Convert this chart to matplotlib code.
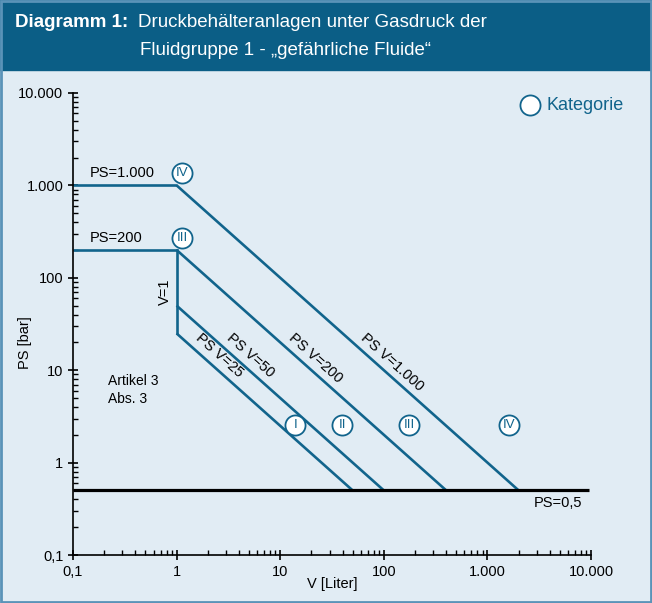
import numpy as np
import matplotlib.pyplot as plt
from matplotlib.patches import Rectangle

plt.rcParams['font.family'] = ['Liberation Sans', 'DejaVu Sans']

blue = '#11648c'
bg = '#e1ecf4'

# grenzlinien PS*V = const
psv = [25, 50, 200, 1000]
psv_labels = ['PS V=25', 'PS V=50', 'PS V=200', 'PS V=1.000']
psv_lab_x = [2.57, 5.13, 21.8, 121]
ps_min = 0.5
ps_flat = [200, 1000]
ps_flat_labels = ['PS=200', 'PS=1.000']

# kategorie kreise
kat_x = [1.13, 1.13, 14.0, 39.7, 176, 1630]
kat_y = [1360, 270, 2.55, 2.55, 2.55, 2.55]
kat_txt = ['IV', 'III', 'I', 'II', 'III', 'IV']

ticks = [0.1, 1, 10, 100, 1000, 10000]
tick_labels = ['0,1', '1', '10', '100', '1.000', '10.000']

fig = plt.figure(figsize=(6.52, 6.03), dpi=100)
fig.patch.set_facecolor(bg)
# header + rahmen
fig.patches.append(Rectangle((0, 0.884), 1, 0.116, transform=fig.transFigure, color='#0b5e86', zorder=0))
fig.patches.append(Rectangle((0.002, 0.002), 0.996, 0.996, transform=fig.transFigure, fill=False,
                             ec='#5a93b8', lw=2, zorder=5))
fig.text(0.023, 0.963, 'Diagramm 1:', color='white', fontsize=13.5, fontweight='bold', va='center')
fig.text(0.211, 0.963, 'Druckbehälteranlagen unter Gasdruck der', color='white', fontsize=13.5, va='center')
fig.text(0.215, 0.917, 'Fluidgruppe 1 - „gefährliche Fluide“', color='white', fontsize=13.5, va='center')

ax = fig.add_axes([0.112, 0.0796, 0.7945, 0.7662])
ax.set_facecolor(bg)
ax.set_xscale('log')
ax.set_yscale('log')
ax.set_xlim(0.1, 10000)
ax.set_ylim(0.1, 10000)
for s in ['top', 'right']:
    ax.spines[s].set_visible(False)
for s in ['left', 'bottom']:
    ax.spines[s].set_linewidth(1.2)
ax.set_xticks(ticks)
ax.set_xticklabels(tick_labels)
ax.set_yticks(ticks)
ax.set_yticklabels(tick_labels)
ax.tick_params(which='major', direction='inout', length=7, width=1.2, labelsize=10.5)
ax.tick_params(which='minor', direction='in', length=3.5, width=1)

# horizontale bis V=1
for p, lab in zip(ps_flat, ps_flat_labels):
    ax.plot([0.1, 1], [p, p], color=blue, lw=1.9, solid_capstyle='butt')
    ax.text(0.146, p * 1.36, lab, fontsize=10.5, va='center')
# V=1 senkrecht
ax.plot([1, 1], [200, 25], color=blue, lw=1.9)
ax.text(0.775, 70, 'V=1', rotation=90, fontsize=10.5, ha='center', va='center')

ang = -np.degrees(np.arctan(92.4 / 103.5))
for c, lab, xv in zip(psv, psv_labels, psv_lab_x):
    v0 = 1.0
    v1 = c / ps_min
    ax.plot([v0, v1], [c / v0, c / v1], color=blue, lw=1.9, solid_capstyle='butt')
    ax.text(xv, c / xv * 1.48, lab, rotation=ang, fontsize=10.5, ha='center', va='center',
            rotation_mode='anchor')

ax.plot([0.1, 9500], [ps_min, ps_min], color='black', lw=2.3, solid_capstyle='butt')
ax.text(8300, 0.366, 'PS=0,5', fontsize=10.5, ha='right', va='center')

ax.text(0.218, 6.1, 'Artikel 3\nAbs. 3', fontsize=10, va='center', linespacing=1.4)

ax.scatter(kat_x, kat_y, s=210, facecolor='white', edgecolor=blue, linewidth=1.3, zorder=4)
for x, y, t in zip(kat_x, kat_y, kat_txt):
    ax.text(x, y, t, fontsize=9.5, color=blue, ha='center', va='center', zorder=5)

ax.scatter([2600], [7400], s=210, facecolor='white', edgecolor=blue, linewidth=1.3, zorder=4,
           clip_on=False)
ax.text(3700, 7400, 'Kategorie', fontsize=13, color=blue, va='center')

ax.set_ylabel('PS [bar]', fontsize=10.5)
ax.yaxis.set_label_coords(-0.079, 0.459)
ax.set_xlabel('V [Liter]', fontsize=10.5, labelpad=-1)

fig.savefig('out.png', dpi=100, facecolor=fig.get_facecolor())
